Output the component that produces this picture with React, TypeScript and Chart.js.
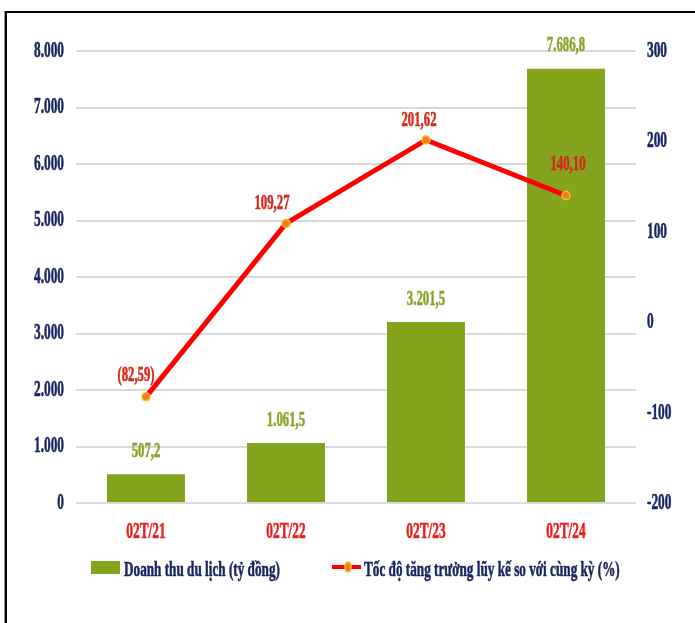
import React, { useEffect, useRef } from "react";
import { Chart, registerables } from "chart.js";

Chart.register(...registerables);

const categories = ["02T/21", "02T/22", "02T/23", "02T/24"];
const revenue = [507.2, 1061.5, 3201.5, 7686.8];
const growth = [-82.59, 109.27, 201.62, 140.1];
const leftTicks = [0, 1000, 2000, 3000, 4000, 5000, 6000, 7000, 8000];
const rightTicks = [-200, -100, 0, 100, 200, 300];
const revenueLabel = "Doanh thu du lịch (tỷ đồng)";
const growthLabel = "Tốc độ tăng trưởng lũy kế so với cùng kỳ (%)";

const lineLabelOffsets = [
  [-10, -22],
  [-14, -20],
  [-7, -20],
  [2, -31],
];

const NAVY = "#17265E";
const BAR = "#85A41E";
const BAR_TEXT = "#88A52A";
const LINE = "#FF0000";
const LINE_TEXT = "#D22A1C";
const CAT_TEXT = "#EE1C1C";

function thousands(intStr: string) {
  return intStr.replace(/\B(?=(\d{3})+(?!\d))/g, ".");
}
function fmtBar(v: number) {
  const [i, d] = v.toFixed(1).split(".");
  return thousands(i) + "," + d;
}
function fmtLine(v: number) {
  const s = Math.abs(v).toFixed(2).replace(".", ",");
  return v < 0 ? "(" + s + ")" : s;
}

function drawText(
  ctx: CanvasRenderingContext2D,
  text: string,
  x: number,
  y: number,
  size: number,
  color: string,
  align: "left" | "center" | "right",
  sx = 0.58
) {
  ctx.save();
  ctx.font = `bold ${size}px "Liberation Serif", "Times New Roman", serif`;
  ctx.fillStyle = color;
  ctx.strokeStyle = color;
  ctx.lineWidth = 0.6;
  ctx.textBaseline = "middle";
  ctx.textAlign = "left";
  ctx.translate(x, y);
  ctx.scale(sx, 1);
  const w = ctx.measureText(text).width;
  const dx = align === "center" ? -w / 2 : align === "right" ? -w : 0;
  ctx.fillText(text, dx, 0);
  ctx.strokeText(text, dx, 0);
  ctx.restore();
}

const decorPlugin = {
  id: "decor",
  beforeDraw(chart: any) {
    const ctx = chart.ctx as CanvasRenderingContext2D;
    ctx.save();
    ctx.fillStyle = "#ffffff";
    ctx.fillRect(0, 0, chart.width, chart.height);
    ctx.strokeStyle = "#000000";
    ctx.lineWidth = 2;
    ctx.beginPath();
    ctx.moveTo(5, 12);
    ctx.lineTo(chart.width, 12);
    ctx.moveTo(6, 11);
    ctx.lineTo(6, chart.height);
    ctx.stroke();
    ctx.strokeStyle = "#9a9a9a";
    ctx.lineWidth = 1;
    ctx.beginPath();
    ctx.moveTo(4.5, 11);
    ctx.lineTo(4.5, chart.height);
    ctx.stroke();
    ctx.restore();
  },
  afterDatasetsDraw(chart: any) {
    const ctx = chart.ctx as CanvasRenderingContext2D;
    const y = chart.scales.y;
    const y1 = chart.scales.y1;
    const x = chart.scales.x;
    const area = chart.chartArea;

    leftTicks.forEach((t) => {
      drawText(ctx, thousands(String(t)), area.left - 12, y.getPixelForValue(t), 23, NAVY, "right");
    });
    rightTicks.forEach((t) => {
      drawText(ctx, String(t), area.right + 11, y1.getPixelForValue(t), 23, NAVY, "left");
    });
    categories.forEach((c, i) => {
      drawText(ctx, c, x.getPixelForValue(i), area.bottom + 29, 23, CAT_TEXT, "center");
    });

    const barMeta = chart.getDatasetMeta(0);
    barMeta.data.forEach((el: any, i: number) => {
      drawText(ctx, fmtBar(revenue[i]), el.x, el.y - 23, 22, BAR_TEXT, "center");
    });
    const lineMeta = chart.getDatasetMeta(1);
    lineMeta.data.forEach((el: any, i: number) => {
      const [dx, dy] = lineLabelOffsets[i];
      drawText(ctx, fmtLine(growth[i]), el.x + dx, el.y + dy, 22, LINE_TEXT, "center");
    });

    // legend
    const ly = 567;
    ctx.save();
    ctx.fillStyle = BAR;
    ctx.fillRect(91, 561, 29, 13);
    ctx.strokeStyle = LINE;
    ctx.lineWidth = 4;
    ctx.beginPath();
    ctx.moveTo(332, ly);
    ctx.lineTo(361, ly);
    ctx.stroke();
    ctx.beginPath();
    ctx.ellipse(348, ly, 3, 5, 0, 0, Math.PI * 2);
    ctx.fillStyle = "#E97B32";
    ctx.fill();
    ctx.strokeStyle = "#FFC000";
    ctx.lineWidth = 1.5;
    ctx.stroke();
    ctx.restore();
    drawText(ctx, revenueLabel, 124, 570, 22, NAVY, "left", 0.6);
    drawText(ctx, growthLabel, 364, 570, 22, NAVY, "left", 0.6);
  },
};

export default function App() {
  const ref = useRef<HTMLCanvasElement | null>(null);
  useEffect(() => {
    if (!ref.current) return;
    const chart = new Chart(ref.current, {
      type: "bar",
      data: {
        labels: categories,
        datasets: [
          {
            type: "bar",
            label: revenueLabel,
            data: revenue,
            backgroundColor: BAR,
            borderWidth: 0,
            barPercentage: 0.557,
            categoryPercentage: 1,
            yAxisID: "y",
            order: 1,
          },
          {
            type: "line",
            label: growthLabel,
            data: growth,
            borderColor: LINE,
            borderWidth: 5,
            pointRadius: 4,
            pointBackgroundColor: "#E97B32",
            pointBorderColor: "#FFC000",
            pointBorderWidth: 1.5,
            tension: 0,
            yAxisID: "y1",
            order: 0,
          } as any,
        ],
      },
      options: {
        animation: false,
        responsive: false,
        maintainAspectRatio: false,
        layout: { padding: { left: 76, right: 59, top: 51, bottom: 120 } },
        plugins: {
          legend: { display: false },
          tooltip: { enabled: false },
          title: { display: false },
        },
        scales: {
          x: {
            grid: { display: false, drawTicks: false },
            border: { display: false },
            ticks: { display: false },
          },
          y: {
            min: 0,
            max: 8000,
            ticks: { display: false, stepSize: 1000 },
            grid: { color: "#D9D9D9", lineWidth: 2, drawTicks: false },
            border: { display: false },
          },
          y1: {
            position: "right",
            min: -200,
            max: 300,
            ticks: { display: false, stepSize: 100 },
            grid: { display: false, drawTicks: false },
            border: { display: false },
          },
        },
      },
      plugins: [decorPlugin],
    });
    return () => chart.destroy();
  }, []);
  return (
    <div style={{ position: "absolute", left: 0, top: 0, width: 695, height: 623, background: "#fff" }}>
      <canvas ref={ref} width={695} height={623} style={{ display: "block", width: 695, height: 623 }} />
    </div>
  );
}
